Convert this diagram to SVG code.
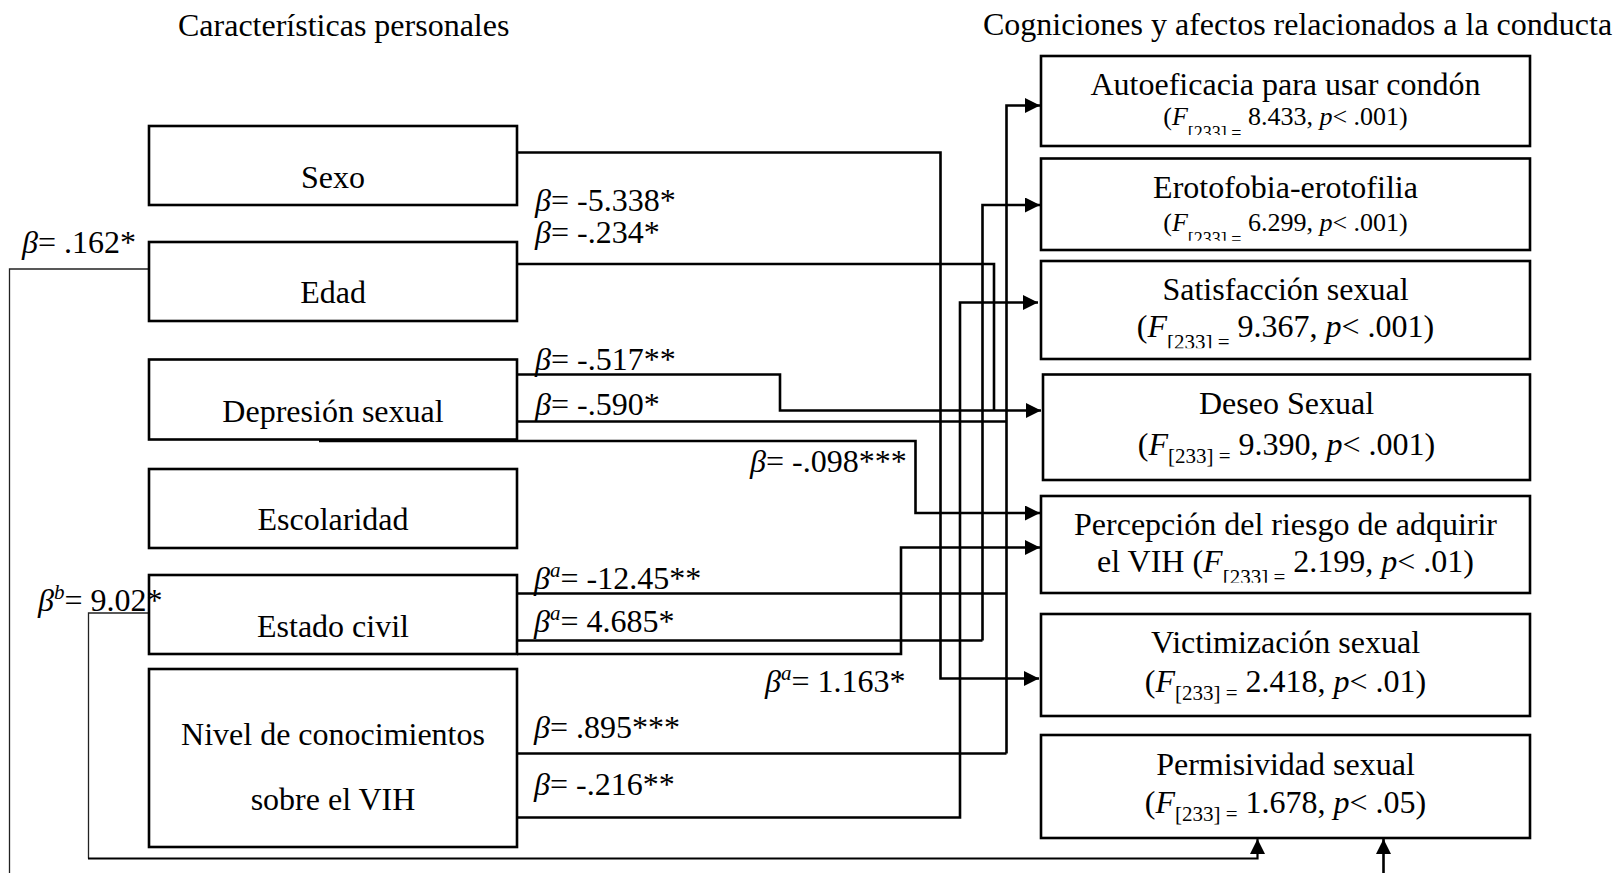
<svg xmlns="http://www.w3.org/2000/svg" width="1614" height="873" viewBox="0 0 1614 873">
<style>
.t{font-family:"Liberation Serif","Times New Roman",serif;font-size:32px;fill:#000}
.s{font-size:26px}
.i{font-style:italic}
.c{text-anchor:middle}
.box{fill:#fff;stroke:#000;stroke-width:2.6}
.ln{fill:none;stroke:#000;stroke-width:2.6}
.thin{fill:none;stroke:#222;stroke-width:1.3}
</style>
<defs>
<marker id="arr" viewBox="0 0 10 10" refX="10" refY="5" markerWidth="16" markerHeight="15" markerUnits="userSpaceOnUse" orient="auto">
<path d="M0,0 L10,5 L0,10 z" fill="#000"/>
</marker>
<clipPath id="cl1"><rect x="1041" y="90" width="489" height="45"/></clipPath>
<clipPath id="cl2"><rect x="1041" y="200" width="489" height="40.7"/></clipPath>
<clipPath id="cl3"><rect x="1041" y="300" width="489" height="48.3"/></clipPath>
<clipPath id="cl5"><rect x="1041" y="540" width="489" height="42.7"/></clipPath>
</defs>

<text class="t" x="178" y="36">Características personales</text>
<text class="t" x="983" y="35">Cogniciones y afectos relacionados a la conducta</text>

<g id="connectors">
<path class="ln" d="M517,152.5 H940.5 V678.5 H1039" marker-end="url(#arr)"/>
<path class="ln" d="M517,264 H994 V410.5"/>
<path class="ln" d="M517,374.5 H780 V410.5 H1041" marker-end="url(#arr)"/>
<path class="ln" d="M517,421.5 H1006.5"/>
<path class="ln" d="M1006.5,753.5 V105.5 H1040" marker-end="url(#arr)"/>
<path class="ln" d="M319,441 H915.5 V513 H1040" marker-end="url(#arr)"/>
<path class="ln" d="M517,593.5 H1006.5"/>
<path class="ln" d="M517,640.5 H982.5"/>
<path class="ln" d="M982.5,640.5 V205 H1040" marker-end="url(#arr)"/>
<path class="ln" d="M517,654 H901 V547.5 H1040" marker-end="url(#arr)"/>
<path class="ln" d="M517,753.5 H1006.5"/>
<path class="ln" d="M517,817.5 H960 V302.5 H1038" marker-end="url(#arr)"/>
<path class="thin" d="M149,269 H9.5 V873"/>
<path class="thin" d="M149,613 H88.5 V858.5"/>
<path class="ln" style="stroke-width:2.2" d="M88,858.5 H1257.5 V839" marker-end="url(#arr)"/>
<path class="ln" d="M1383.5,873 V839" marker-end="url(#arr)"/>
</g>

<g id="sexo"><rect class="box" x="149" y="126" width="368" height="79"/><text class="t c" x="333" y="187.7">Sexo</text></g>
<g id="edad"><rect class="box" x="149" y="242" width="368" height="79"/><text class="t c" x="333" y="303.3">Edad</text></g>
<g id="depresion"><rect class="box" x="149" y="359.5" width="368" height="80"/><text class="t c" x="333" y="421.7">Depresión sexual</text></g>
<g id="escolaridad"><rect class="box" x="149" y="469" width="368" height="79"/><text class="t c" x="333" y="530">Escolaridad</text></g>
<g id="estado-civil"><rect class="box" x="149" y="575" width="368" height="79"/><text class="t c" x="333" y="636.7">Estado civil</text></g>
<g id="nivel"><rect class="box" x="149" y="669" width="368" height="178"/><text class="t c" x="333" y="745">Nivel de conocimientos</text><text class="t c" x="333" y="810">sobre el VIH</text></g>

<g id="autoeficacia"><rect class="box" x="1041" y="56" width="489" height="90"/>
<text class="t c" x="1285.5" y="95">Autoeficacia para usar condón</text>
<text class="t s c" x="1285.5" y="125" clip-path="url(#cl1)">(<tspan class="i">F</tspan><tspan font-size="18" dy="14">[233] =</tspan><tspan dy="-14"> 8.433, </tspan><tspan class="i">p</tspan>&lt; .001)</text></g>
<g id="erotofobia"><rect class="box" x="1041" y="158.5" width="489" height="91.5"/>
<text class="t c" x="1285.5" y="198.3">Erotofobia-erotofilia</text>
<text class="t s c" x="1285.5" y="230.7" clip-path="url(#cl2)">(<tspan class="i">F</tspan><tspan font-size="18" dy="14">[233] =</tspan><tspan dy="-14"> 6.299, </tspan><tspan class="i">p</tspan>&lt; .001)</text></g>
<g id="satisfaccion"><rect class="box" x="1041" y="261" width="489" height="98"/>
<text class="t c" x="1285.5" y="300">Satisfacción sexual</text>
<text class="t c" x="1285.5" y="336.7" clip-path="url(#cl3)">(<tspan class="i">F</tspan><tspan font-size="21" dy="12">[233] =</tspan><tspan dy="-12"> 9.367, </tspan><tspan class="i">p</tspan>&lt; .001)</text></g>
<g id="deseo"><rect class="box" x="1043" y="374.5" width="487" height="105.5"/>
<text class="t c" x="1286.5" y="414.3">Deseo Sexual</text>
<text class="t c" x="1286.5" y="455">(<tspan class="i">F</tspan><tspan font-size="21" dy="8">[233] =</tspan><tspan dy="-8"> 9.390, </tspan><tspan class="i">p</tspan>&lt; .001)</text></g>
<g id="percepcion"><rect class="box" x="1041" y="496" width="489" height="97"/>
<text class="t c" x="1285.5" y="535">Percepción del riesgo de adquirir</text>
<text class="t c" x="1285.5" y="571.7" clip-path="url(#cl5)">el VIH (<tspan class="i">F</tspan><tspan font-size="21" dy="12">[233] =</tspan><tspan dy="-12"> 2.199, </tspan><tspan class="i">p</tspan>&lt; .01)</text></g>
<g id="victimizacion"><rect class="box" x="1041" y="614" width="489" height="102"/>
<text class="t c" x="1285.5" y="653.3">Victimización sexual</text>
<text class="t c" x="1285.5" y="692.3">(<tspan class="i">F</tspan><tspan font-size="21" dy="8">[233] =</tspan><tspan dy="-8"> 2.418, </tspan><tspan class="i">p</tspan>&lt; .01)</text></g>
<g id="permisividad"><rect class="box" x="1041" y="735" width="489" height="103"/>
<text class="t c" x="1285.5" y="775">Permisividad sexual</text>
<text class="t c" x="1285.5" y="812.7">(<tspan class="i">F</tspan><tspan font-size="21" dy="8">[233] =</tspan><tspan dy="-8"> 1.678, </tspan><tspan class="i">p</tspan>&lt; .05)</text></g>

<g id="labels">
<text class="t" x="22" y="253"><tspan class="i">β</tspan>= .162*</text>
<text class="t" x="38" y="611"><tspan class="i">β</tspan><tspan class="i" font-size="21" dy="-12">b</tspan><tspan dy="12">= 9.02*</tspan></text>
<text class="t" x="535" y="211"><tspan class="i">β</tspan>= -5.338*</text>
<text class="t" x="535" y="243"><tspan class="i">β</tspan>= -.234*</text>
<text class="t" x="535" y="370"><tspan class="i">β</tspan>= -.517**</text>
<text class="t" x="535" y="415"><tspan class="i">β</tspan>= -.590*</text>
<text class="t" x="750" y="471.5"><tspan class="i">β</tspan>= -.098***</text>
<text class="t" x="534" y="589"><tspan class="i">β</tspan><tspan class="i" font-size="21" dy="-12">a</tspan><tspan dy="12">= -12.45**</tspan></text>
<text class="t" x="534" y="631.5"><tspan class="i">β</tspan><tspan class="i" font-size="21" dy="-12">a</tspan><tspan dy="12">= 4.685*</tspan></text>
<text class="t" x="765" y="691.5"><tspan class="i">β</tspan><tspan class="i" font-size="21" dy="-12">a</tspan><tspan dy="12">= 1.163*</tspan></text>
<text class="t" x="534" y="738"><tspan class="i">β</tspan>= .895***</text>
<text class="t" x="534" y="795"><tspan class="i">β</tspan>= -.216**</text>
</g>
</svg>
